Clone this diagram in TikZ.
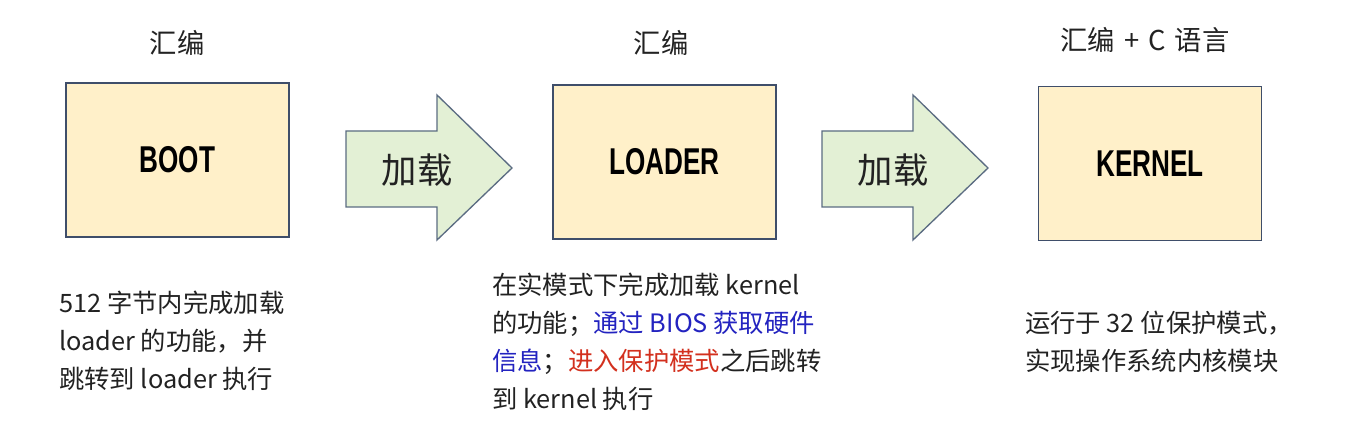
\documentclass[tikz,border=0pt]{standalone}
\usepackage{fontspec}
\setmainfont{Noto Sans CJK SC}
\newfontfamily\boxfont{Liberation Sans}
\begin{document}
\begin{tikzpicture}[x=0.75pt,y=-0.75pt,
  stagebox/.style={draw=boxline,fill=boxfill,line width=1.2pt,minimum width=167pt,minimum height=115.5pt,inner sep=0pt,
    font=\boxfont\bfseries\fontsize{28}{30}\selectfont},
  blockarrow/.style={draw=arrline,fill=arrfill,line width=1pt,line join=miter},
  arrlabel/.style={inner sep=0pt,font=\fontsize{26.5}{28}\selectfont},
  title/.style={inner sep=0pt,font=\fontsize{20.5}{22}\selectfont},
  desc/.style={inner sep=0pt,anchor=north west,align=left,font=\fontsize{19}{28.5}\selectfont}]
\definecolor{boxfill}{HTML}{FFF0C9}
\definecolor{boxline}{HTML}{3F4E6A}
\definecolor{arrfill}{HTML}{E3F0D5}
\definecolor{arrline}{HTML}{5B6C82}
\definecolor{txtblue}{HTML}{2323C0}
\definecolor{txtred}{HTML}{D3301E}
\definecolor{txt}{HTML}{222222}
\useasboundingbox[fill=white] (0,0) rectangle (1364,423);

\node[stagebox] (boot) at (177.5,160) {\scalebox{0.7}[1]{BOOT}};
\node[stagebox] (loader) at (664.5,162) {\scalebox{0.7}[1]{LOADER}};
\node[stagebox] (kernel) at (1150,163.5) {\scalebox{0.7}[1]{KERNEL}};

\node[title,text=txt] (t1) at (177,43) {汇编};
\node[title,text=txt] (t2) at (661,43) {汇编};
\node[title,text=txt] (t3) at (1145,40) {汇编\,\,+\,\,C\,\,语言};

\draw[blockarrow] (346,131) -- (437,131) -- (437,95) -- (512,168) -- (437,240) -- (437,207) -- (346,207) -- cycle;
\node[arrlabel,text=txt] (a1) at (417,170) {加载};
\draw[blockarrow] (822,131) -- (913,131) -- (913,95) -- (988,168) -- (913,240) -- (913,207) -- (822,207) -- cycle;
\node[arrlabel,text=txt] (a2) at (893,170) {加载};

\node[desc,text=txt] (d1) at (59,291) {512 字节内完成加载\\loader 的功能，并\\跳转到 loader 执行};
\node[desc,text=txt] (d2) at (492,273) {在实模式下完成加载 kernel\\的功能；\textcolor{txtblue}{通过 BIOS 获取硬件}\\\textcolor{txtblue}{信息}；\textcolor{txtred}{进入保护模式}之后跳转\\到 kernel 执行};
\node[desc,text=txt] (d3) at (1025,311) {运行于 32 位保护模式，\\实现操作系统内核模块};
\end{tikzpicture}
\end{document}
